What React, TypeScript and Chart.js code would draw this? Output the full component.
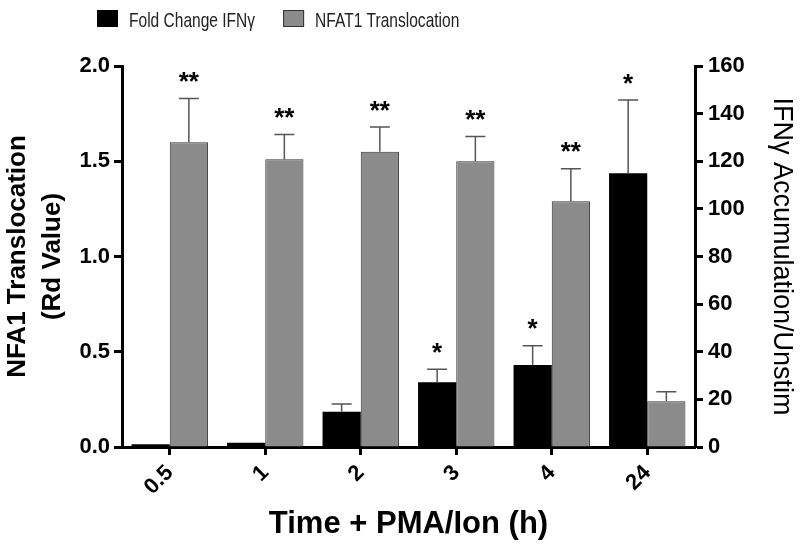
import React, { useEffect, useRef } from 'react';
import { Chart, registerables } from 'chart.js';

Chart.register(...registerables);

const categories = ['0.5', '1', '2', '3', '4', '24'];
const ifnFoldChange = [1.2, 1.8, 14.8, 27.2, 34.4, 115.0];
const ifnFoldChangeErr = [0, 0, 3.3, 5.4, 8.1, 30.7];
const nfatTranslocation = [1.6, 1.51, 1.55, 1.5, 1.29, 0.24];
const nfatTranslocationErr = [0.23, 0.13, 0.13, 0.13, 0.17, 0.05];
const ifnSignificance = ['', '', '', '*', '*', '*'];
const nfatSignificance = ['**', '**', '**', '**', '**', ''];
const seriesLabels = ['Fold Change IFNγ', 'NFAT1 Translocation'];
const xTitle = 'Time + PMA/Ion (h)';
const leftTitle = ['NFA1 Translocation', '(Rd Value)'];
const rightTitle = 'IFNγ Accumulation/Unstim';

const FONT = '"Liberation Sans", Arial, sans-serif';
const ERRORS = [ifnFoldChangeErr, nfatTranslocationErr];
const SIGS = [ifnSignificance, nfatSignificance];

const errorPlugin = {
  id: 'errorBarsAndStars',
  afterDatasetsDraw(chart: any) {
    const ctx = chart.ctx;
    chart.data.datasets.forEach((ds: any, i: number) => {
      const meta = chart.getDatasetMeta(i);
      const scale = chart.scales[ds.yAxisID];
      meta.data.forEach((bar: any, j: number) => {
        const v = ds.data[j];
        const e = ERRORS[i][j];
        const x = bar.x;
        const yTop = scale.getPixelForValue(v);
        const yErr = scale.getPixelForValue(v + e);
        ctx.save();
        if (e > 0) {
          ctx.strokeStyle = '#555';
          ctx.lineWidth = 1.5;
          ctx.beginPath();
          ctx.moveTo(x, yTop);
          ctx.lineTo(x, yErr);
          ctx.moveTo(x - 10, yErr);
          ctx.lineTo(x + 10, yErr);
          ctx.stroke();
        }
        const s = SIGS[i][j];
        if (s) {
          ctx.fillStyle = '#000';
          ctx.font = `bold 26px ${FONT}`;
          ctx.textAlign = 'center';
          ctx.textBaseline = 'alphabetic';
          const cy = yErr - 23;
          ctx.fillText(s, x, cy + 14.6);
        }
        ctx.restore();
      });
    });
  },
};

const legendPlugin = {
  id: 'customLegend',
  afterDraw(chart: any) {
    const ctx = chart.ctx;
    const baseline = 27;
    const boxW = 21;
    const boxH = 17;
    const hScale = 0.74;
    let x = 97;
    ctx.save();
    ctx.font = `21px ${FONT}`;
    chart.data.datasets.forEach((ds: any) => {
      ctx.fillStyle = ds.backgroundColor;
      ctx.fillRect(x, baseline - boxH, boxW, boxH);
      if (ds.borderWidth) {
        ctx.strokeStyle = ds.borderColor;
        ctx.lineWidth = 1;
        ctx.strokeRect(x + 0.5, baseline - boxH + 0.5, boxW - 1, boxH - 1);
      }
      x += boxW + 11;
      ctx.fillStyle = '#222';
      ctx.textAlign = 'left';
      ctx.textBaseline = 'alphabetic';
      ctx.save();
      ctx.translate(x, baseline);
      ctx.scale(hScale, 1);
      ctx.fillText(ds.label, 0, 0);
      ctx.restore();
      x += ctx.measureText(ds.label).width * hScale + 28;
    });
    ctx.restore();
  },
};

export default function App() {
  const ref = useRef<HTMLCanvasElement | null>(null);
  useEffect(() => {
    if (!ref.current) return;
    Chart.defaults.font.family = FONT;
    const axisGrid = {
      display: true,
      drawOnChartArea: false,
      drawTicks: true,
      tickLength: 8,
      tickWidth: 3,
      tickColor: '#000',
      color: '#000',
    };
    const chart = new Chart(ref.current, {
      type: 'bar',
      data: {
        labels: categories,
        datasets: [
          {
            label: seriesLabels[0],
            data: ifnFoldChange,
            yAxisID: 'yRight',
            backgroundColor: '#000',
            borderColor: '#000',
            borderWidth: 0,
            categoryPercentage: 0.8,
            barPercentage: 1,
          },
          {
            label: seriesLabels[1],
            data: nfatTranslocation,
            yAxisID: 'y',
            backgroundColor: '#8b8b8b',
            borderColor: '#333',
            borderWidth: 1,
            categoryPercentage: 0.8,
            barPercentage: 1,
          },
        ],
      } as any,
      options: {
        animation: false,
        responsive: false,
        layout: { padding: { top: 66, left: 0, right: 0, bottom: 0 } },
        plugins: { legend: { display: false }, tooltip: { enabled: false } },
        scales: {
          x: {
            type: 'category',
            offset: true,
            z: 1,
            grid: { ...axisGrid, offset: false },
            border: { display: true, width: 3, color: '#000' },
            ticks: {
              font: { size: 22, weight: 'bold' },
              color: '#000',
              maxRotation: 45,
              minRotation: 45,
              autoSkip: false,
              padding: 5,
            },
            title: {
              display: true,
              text: xTitle,
              color: '#000',
              font: { size: 31, weight: 'bold', lineHeight: 1.2 },
              padding: { top: 0, bottom: 13 },
            },
            afterFit: (s: any) => {
              s.height = 109;
            },
          },
          y: {
            type: 'linear',
            position: 'left',
            min: 0,
            max: 2,
            z: 1,
            grid: axisGrid,
            border: { display: true, width: 3, color: '#000' },
            ticks: {
              stepSize: 0.5,
              callback: (v: any) => Number(v).toFixed(1),
              font: { size: 22, weight: 'bold' },
              color: '#000',
              padding: 4,
            },
            title: {
              display: true,
              text: leftTitle,
              color: '#000',
              font: { size: 26, weight: 'bold', lineHeight: 1.35 },
              padding: { top: 0, bottom: 0 },
            },
            afterFit: (s: any) => {
              s.width = 122;
            },
          },
          yRight: {
            type: 'linear',
            position: 'right',
            min: 0,
            max: 160,
            z: 1,
            grid: axisGrid,
            border: { display: true, width: 3, color: '#000' },
            ticks: {
              stepSize: 20,
              font: { size: 22, weight: 'bold' },
              color: '#000',
              padding: 5,
            },
            title: {
              display: true,
              text: rightTitle,
              color: '#000',
              font: { size: 27, weight: 'normal', lineHeight: 1.2 },
              padding: { top: 2, bottom: 0 },
            },
            afterFit: (s: any) => {
              s.width = 105;
            },
          },
        },
      } as any,
      plugins: [errorPlugin, legendPlugin],
    });
    return () => chart.destroy();
  }, []);
  return (
    <div style={{ position: 'fixed', left: 0, top: 0, width: 800, height: 556, background: '#fff' }}>
      <canvas ref={ref} width={800} height={556} />
    </div>
  );
}
